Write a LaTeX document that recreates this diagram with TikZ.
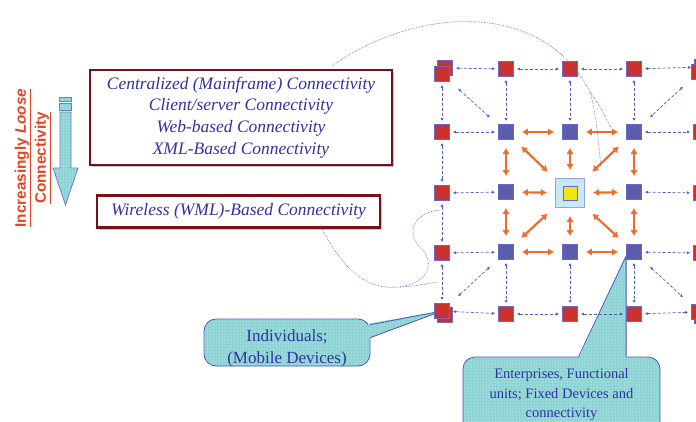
\documentclass[tikz,border=0pt]{standalone}
\usepackage{fontspec}
\setmainfont{Liberation Serif}
\setsansfont{Liberation Sans}
\usepackage{tikz}
\usetikzlibrary{
  arrows.meta,
  backgrounds,
  calc,
  patterns,
  positioning,
  shadows,
}
\definecolor{sqred}{RGB}{204, 50, 45}
\definecolor{sqblue}{RGB}{92, 92, 172}
\definecolor{sqedge}{RGB}{105, 105, 205}
\definecolor{linkblue}{RGB}{80, 95, 200}
\definecolor{floworange}{RGB}{240, 108, 45}
\definecolor{boxred}{RGB}{118, 18, 22}
\definecolor{txtblue}{RGB}{50, 50, 160}
\definecolor{callcyan}{RGB}{140, 212, 212}
\definecolor{calledge}{RGB}{70, 85, 190}
\definecolor{hubcyan}{RGB}{200, 232, 248}
\definecolor{hubedge}{RGB}{150, 165, 225}
\definecolor{hubyellow}{RGB}{240, 228, 20}
\definecolor{trendred}{RGB}{228, 68, 36}
\tikzstyle{redsq} = [draw=sqedge, fill=sqred, minimum size=15pt, inner sep=0pt, line width=0.8pt]
\tikzstyle{bluesq} = [draw=sqedge, fill=sqblue, minimum size=15pt, inner sep=0pt, line width=0.8pt]
\tikzstyle{link} = [
  {Latex[length=3pt,width=3pt]}-{Latex[length=3pt,width=3pt]},
  linkblue,
  line width=0.7pt,
  dash pattern=on 3pt off 2pt,
  shorten >=3pt,
  shorten <=3pt,
]
\tikzstyle{slant} = [link, shorten >=11pt, shorten <=11pt]
\tikzstyle{flow} = [
  {Latex[length=6pt,width=7.5pt]}-{Latex[length=6pt,width=7.5pt]},
  floworange,
  line width=2.2pt,
  shorten >=8pt,
  shorten <=8pt,
]
\tikzstyle{flowslant} = [flow, shorten >=10pt, shorten <=10pt]
\tikzstyle{modebox} = [
  draw=boxred,
  line width=2.5pt,
  fill=white,
  drop shadow={shadow xshift=2pt, shadow yshift=-2pt, fill=black!45},
  align=center,
  text=txtblue,
  font=\itshape\fontsize{17.5}{21.7}\selectfont,
]
\tikzstyle{callbox} = [draw=calledge, line width=0.8pt, fill=callcyan, postaction={pattern=dots, pattern color=white}]
\tikzstyle{calltext} = [align=center, text=txtblue]
\tikzstyle{lead} = [linkblue, line width=0.6pt, densely dotted]

\begin{document}
\begin{tikzpicture}[x=1pt,y=-1pt]
  \useasboundingbox (0,0) rectangle (696,421);

  % grid of devices
  \node[redsq] (g00b) at (445,68) {};
  \node[redsq] (g00) at (442,74) {};
  \node[redsq] (g01) at (506,69) {};
  \node[redsq] (g02) at (570,69) {};
  \node[redsq] (g03) at (634,69) {};
  \node[redsq] (g04b) at (702,67) {};
  \node[redsq] (g04) at (699,72) {};

  \node[redsq] (g10) at (442,132) {};
  \node[bluesq] (g11) at (506,132) {};
  \node[bluesq] (g12) at (570,132) {};
  \node[bluesq] (g13) at (634,132) {};
  \node[redsq] (g14) at (701,132) {};

  \node[redsq] (g20) at (442,193) {};
  \node[bluesq] (g21) at (506,192) {};
  \node[draw=hubedge,line width=1pt,fill=hubcyan,minimum size=29pt,inner sep=0pt] (hub) at (570,193) {};
  \node[draw=sqedge,line width=0.8pt,fill=hubyellow,minimum size=14pt,inner sep=0pt] (core) at (hub) {};
  \node[bluesq] (g23) at (634,192) {};
  \node[redsq] (g24) at (701,193) {};

  \node[redsq] (g30) at (442,253) {};
  \node[bluesq] (g31) at (506,252) {};
  \node[bluesq] (g32) at (570,252) {};
  \node[bluesq] (g33) at (634,252) {};
  \node[redsq] (g34) at (701,253) {};

  \node[redsq] (g40b) at (445,315) {};
  \node[redsq] (g40) at (442,311) {};
  \node[redsq] (g41) at (506,314) {};
  \node[redsq] (g42) at (570,314) {};
  \node[redsq] (g43) at (634,314) {};
  \node[redsq] (g44b) at (702,316) {};
  \node[redsq] (g44) at (699,312) {};

  % loose links
  \draw[link] (g00b) -- (g01);
  \draw[link] (g01) -- (g02);
  \draw[link] (g02) -- (g03);
  \draw[link] (g03) -- (g04b);
  \draw[link] (g00) -- (g10);
  \draw[link] (g10) -- (g20);
  \draw[link] (g20) -- (g30);
  \draw[link] (g30) -- (g40);
  \draw[link] (g01) -- (g11);
  \draw[link] (g02) -- (g12);
  \draw[link] (g03) -- (g13);
  \draw[link] (g10) -- (g11);
  \draw[link] (g13) -- (g14);
  \draw[link] (g20) -- (g21);
  \draw[link] (g23) -- (g24);
  \draw[link] (g30) -- (g31);
  \draw[link] (g33) -- (g34);
  \draw[link] (g31) -- (g41);
  \draw[link] (g32) -- (g42);
  \draw[link] (g33) -- (g43);
  \draw[link] (g40) -- (g41);
  \draw[link] (g41) -- (g42);
  \draw[link] (g42) -- (g43);
  \draw[link] (g43) -- (g44);
  \draw[slant] (g00) -- (g11);
  \draw[slant] (g04) -- (g13);
  \draw[slant] (g31) -- (g40);
  \draw[slant] (g33) -- (g44);

  % tight links round the hub
  \draw[flow] (g11) -- (g12);
  \draw[flow] (g12) -- (g13);
  \draw[flow] (g21) -- (hub);
  \draw[flow] (hub) -- (g23);
  \draw[flow] (g31) -- (g32);
  \draw[flow] (g32) -- (g33);
  \draw[flow] (g11) -- (g21);
  \draw[flow] (g12) -- (hub);
  \draw[flow] (g13) -- (g23);
  \draw[flow] (g21) -- (g31);
  \draw[flow] (hub) -- (g32);
  \draw[flow] (g23) -- (g33);
  \draw[flowslant] (g11) -- (hub);
  \draw[flowslant] (g13) -- (hub);
  \draw[flowslant] (g31) -- (hub);
  \draw[flowslant] (g33) -- (hub);

  % kinds of connectivity
  \node[modebox,minimum width=302pt,minimum height=95pt] (modes) at (241,117.5) {Centralized (Mainframe) Connectivity\\Client/server Connectivity\\Web-based Connectivity\\XML-Based Connectivity};
  \node[modebox,minimum width=283pt,minimum height=32pt,below=28pt of modes,xshift=-2.5pt] (wml) {Wireless (WML)-Based Connectivity};

  % trend arrow
  \filldraw[callbox,draw=calledge!80] (59,97) rectangle (71,101);
  \filldraw[callbox,draw=calledge!80] (59,103) rectangle (71,110);
  \filldraw[callbox,draw=calledge!80] (60,112) -- (71,112) -- (71,168) -- (78,168) -- (65.5,205) -- (53,168) -- (60,168) -- cycle;
  \node[rotate=90,align=center,text=trendred,font=\sffamily\bfseries\fontsize{15.3}{20}\selectfont] (trend) at (33,158) {\underline{Increasingly \textit{Loose}}\\\underline{Connectivity}};

  % leader curves
  \coordinate (lead1) at (332,66);
  \coordinate (fork1) at (590,92);
  \coordinate (hubtip) at (601,166);
  \coordinate (flowtip) at (611,128);
  \draw[lead] (lead1) .. controls (410,10) and (540,-5) .. (fork1) .. controls (596,112) and (598,140) .. (hubtip);
  \draw[lead] (fork1) .. controls (600,105) and (606,118) .. (flowtip);
  \coordinate (lead2) at (320,225);
  \coordinate (fork2) at (400,287);
  \coordinate (lowtip) at (437,282);
  \coordinate (midtip) at (440,210);
  \draw[lead] (lead2) .. controls (345,275) and (370,290) .. (fork2) .. controls (415,286) .. (lowtip);
  \draw[lead] (fork2) .. controls (432,282) and (434,260) .. (420,247) .. controls (405,232) and (415,212) .. (midtip);

  % callouts
  \begin{scope}[on background layer]
    \node[callbox,rounded corners=12pt,minimum width=166pt,minimum height=47pt] (indbox) at (287,342.5) {};
    \fill[callbox,draw=none] ($(indbox.north east)+(-2,5)$) -- (g40.center) -- ($(indbox.north east)+(-2,20)$) -- cycle;
    \draw[calledge,line width=0.8pt] ($(indbox.north east)+(0,6)$) -- (g40.center) -- ($(indbox.north east)+(0,19)$);
    \node[callbox,rounded corners=12pt,minimum width=197pt,minimum height=86pt] (entbox) at (561.5,400) {};
    \coordinate (entapex) at ($(g33.west)+(0,4)$);
    \fill[callbox,draw=none] ($(entbox.north west)+(116,2)$) -- (entapex) -- ($(entapex |- entbox.north)+(0,2)$) -- cycle;
    \draw[calledge,line width=0.8pt] ($(entbox.north west)+(116,0)$) -- (entapex) -- (entapex |- entbox.north);
  \end{scope}
  \node[calltext,font=\fontsize{17}{22}\selectfont] (indtext) at (287,348) {Individuals;\\(Mobile Devices)};
  \node[calltext,font=\fontsize{14.5}{19.5}\selectfont] (enttext) at (561.5,395) {Enterprises, Functional\\units; Fixed Devices and\\connectivity};
\end{tikzpicture}
\end{document}
